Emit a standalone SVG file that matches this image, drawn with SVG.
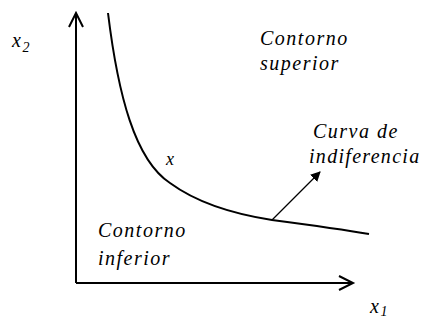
<svg xmlns="http://www.w3.org/2000/svg" width="425" height="320" viewBox="0 0 425 320">
<defs>
<style>
.t{font-family:"Liberation Serif","Times New Roman",serif;font-style:italic;font-size:20px;fill:#000;letter-spacing:1.5px}
</style>
<marker id="ah" markerWidth="10" markerHeight="10" refX="9" refY="5" orient="auto" markerUnits="userSpaceOnUse" viewBox="0 0 10 10">
<path d="M0,0 L10,5 L0,10 Z" fill="#000"/>
</marker>
</defs>
<g id="axes" fill="none" stroke="#000" stroke-width="2">
<path d="M76,283 L76,13 M69,27 L76,13 L83,27"/>
<path d="M76,283 L353,283 M339,276 L353,283 L339,290"/>
</g>
<g id="curve">
<path fill="none" stroke="#000" stroke-width="2" d="M108,13 C118,95 135,160 170,183 C200,205 240,215 272,220 C310,225 340,229 369,234"/>
</g>
<g id="connectors">
<line x1="272" y1="220" x2="320" y2="172" stroke="#000" stroke-width="1.2" marker-end="url(#ah)"/>
</g>
<g id="labels">
<text class="t" x="12" y="47">x<tspan font-size="14" dy="5">2</tspan></text>
<text class="t" x="370" y="313">x<tspan font-size="14" dy="3">1</tspan></text>
<text class="t" x="166" y="165" style="font-size:18px">x</text>
<text class="t" x="260" y="45">Contorno</text>
<text class="t" x="260" y="70">superior</text>
<text class="t" x="98" y="237">Contorno</text>
<text class="t" x="98" y="265">inferior</text>
<text class="t" x="313" y="138">Curva de</text>
<text class="t" x="309" y="163" style="letter-spacing:1.3px">indiferencia</text>
</g>
</svg>
